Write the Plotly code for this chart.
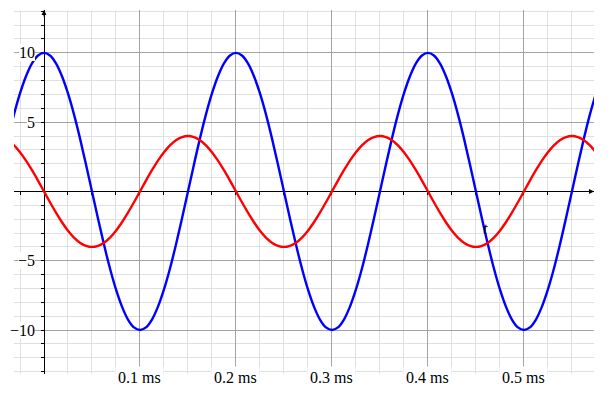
import plotly.graph_objects as go

# time samples (ms)
t = [round(-0.0375 + 0.00625 * i, 5) for i in range(99)]
# values at those times
blue = [3.83, 5.56, 7.07, 8.31, 9.24, 9.81,
        10, 9.81, 9.24, 8.31, 7.07, 5.56, 3.83, 1.95, 0, -1.95, -3.83, -5.56, -7.07, -8.31, -9.24, -9.81,
        -10, -9.81, -9.24, -8.31, -7.07, -5.56, -3.83, -1.95, 0, 1.95, 3.83, 5.56, 7.07, 8.31, 9.24, 9.81,
        10, 9.81, 9.24, 8.31, 7.07, 5.56, 3.83, 1.95, 0, -1.95, -3.83, -5.56, -7.07, -8.31, -9.24, -9.81,
        -10, -9.81, -9.24, -8.31, -7.07, -5.56, -3.83, -1.95, 0, 1.95, 3.83, 5.56, 7.07, 8.31, 9.24, 9.81,
        10, 9.81, 9.24, 8.31, 7.07, 5.56, 3.83, 1.95, 0, -1.95, -3.83, -5.56, -7.07, -8.31, -9.24, -9.81,
        -10, -9.81, -9.24, -8.31, -7.07, -5.56, -3.83, -1.95, 0, 1.95, 3.83, 5.56, 7.07]
red = [3.7, 3.33, 2.83, 2.22, 1.53, 0.78,
       0, -0.78, -1.53, -2.22, -2.83, -3.33, -3.7, -3.92, -4, -3.92, -3.7, -3.33, -2.83, -2.22, -1.53, -0.78,
       0, 0.78, 1.53, 2.22, 2.83, 3.33, 3.7, 3.92, 4, 3.92, 3.7, 3.33, 2.83, 2.22, 1.53, 0.78,
       0, -0.78, -1.53, -2.22, -2.83, -3.33, -3.7, -3.92, -4, -3.92, -3.7, -3.33, -2.83, -2.22, -1.53, -0.78,
       0, 0.78, 1.53, 2.22, 2.83, 3.33, 3.7, 3.92, 4, 3.92, 3.7, 3.33, 2.83, 2.22, 1.53, 0.78,
       0, -0.78, -1.53, -2.22, -2.83, -3.33, -3.7, -3.92, -4, -3.92, -3.7, -3.33, -2.83, -2.22, -1.53, -0.78,
       0, 0.78, 1.53, 2.22, 2.83, 3.33, 3.7, 3.92, 4, 3.92, 3.7, 3.33, 2.83]

x_tick_vals = [0.1, 0.2, 0.3, 0.4, 0.5]
x_tick_text = ["0.1 ms", "0.2 ms", "0.3 ms", "0.4 ms", "0.5 ms"]
y_tick_vals = [-10, -5, 5, 10]
y_tick_text = ["\u221210", "\u22125", "5", "10"]

XR = [-0.03125, 0.573]
YR = [-13.17, 13.09]
FONT = "Liberation Serif"
FS = 16

fig = go.Figure()
fig.add_trace(go.Scatter(x=t, y=blue, mode="lines", line=dict(color="#0000ff", width=2.4, shape="spline"),
                         showlegend=False, hoverinfo="skip"))
fig.add_trace(go.Scatter(x=t, y=red, mode="lines", line=dict(color="#ff0000", width=2.4, shape="spline"),
                         xaxis="x2", showlegend=False, hoverinfo="skip"))

major_grid = "#a3a3a3"
minor_grid = "#e0e0e0"

yzero_frac = (0 - YR[0]) / (YR[1] - YR[0])
xzero_frac = (0 - XR[0]) / (XR[1] - XR[0])

fig.update_layout(
    width=610, height=393,
    margin=dict(l=14, r=16, t=10, b=19),
    plot_bgcolor="white", paper_bgcolor="white",
    font=dict(family=FONT, size=FS, color="black"),
    xaxis=dict(range=XR, domain=[0, 1], showline=False, zeroline=False, automargin=False,
               tickvals=x_tick_vals, showticklabels=False, ticks="",
               showgrid=True, gridcolor=major_grid, gridwidth=1,
               minor=dict(dtick=0.025, tick0=0, showgrid=True, gridcolor=minor_grid, gridwidth=1)),
    xaxis2=dict(range=XR, matches="x", overlaying="x", anchor="free", position=yzero_frac,
                showline=True, linecolor="black", linewidth=1, zeroline=False, showgrid=False,
                automargin=False,
                tickvals=x_tick_vals, showticklabels=False, ticks="outside", ticklen=3,
                tickcolor="black", layer="below traces",
                minor=dict(dtick=0.025, tick0=0, ticks="outside", ticklen=3, tickcolor="black", showgrid=False)),
    yaxis=dict(range=YR, anchor="free", position=xzero_frac, side="left", automargin=False,
               showline=True, linecolor="black", linewidth=1, zeroline=False,
               tickvals=y_tick_vals, showticklabels=False, ticks="outside", ticklen=3, tickcolor="black",
               showgrid=True, gridcolor=major_grid, gridwidth=1, layer="below traces",
               minor=dict(dtick=1, tick0=0, showgrid=True, gridcolor=minor_grid, gridwidth=1,
                          ticks="outside", ticklen=3, tickcolor="black")),
)

# tick labels with white background (as in the original)
for v, lbl in zip(y_tick_vals, y_tick_text):
    fig.add_annotation(x=0, y=v, xref="x", yref="y", text=lbl, showarrow=False,
                       xanchor="right", yanchor="middle", xshift=-9, bgcolor="white",
                       borderpad=0, borderwidth=0, font=dict(family=FONT, size=FS, color="black"))
for v, lbl in zip(x_tick_vals, x_tick_text):
    fig.add_annotation(x=v, y=YR[0], xref="x", yref="y", text=lbl, showarrow=False,
                       xanchor="center", yanchor="middle", yshift=-3, bgcolor="white",
                       borderpad=2, font=dict(family=FONT, size=FS, color="black"))

# axis arrows
fig.add_annotation(x=XR[1], y=0, xref="x", yref="y", ax=-8, ay=0, axref="pixel", ayref="pixel",
                   text="", showarrow=True, arrowhead=2, arrowsize=1, arrowwidth=1, arrowcolor="black")
fig.add_annotation(x=0, y=YR[1], xref="x", yref="y", ax=0, ay=8, axref="pixel", ayref="pixel",
                   text="", showarrow=True, arrowhead=2, arrowsize=1, arrowwidth=1, arrowcolor="black")

# axis label t
fig.add_annotation(x=0.46, y=-2.65, xref="x", yref="y", text="<i>t</i>", showarrow=False,
                   font=dict(family=FONT, size=FS, color="black"))

fig.write_html("out.html")
